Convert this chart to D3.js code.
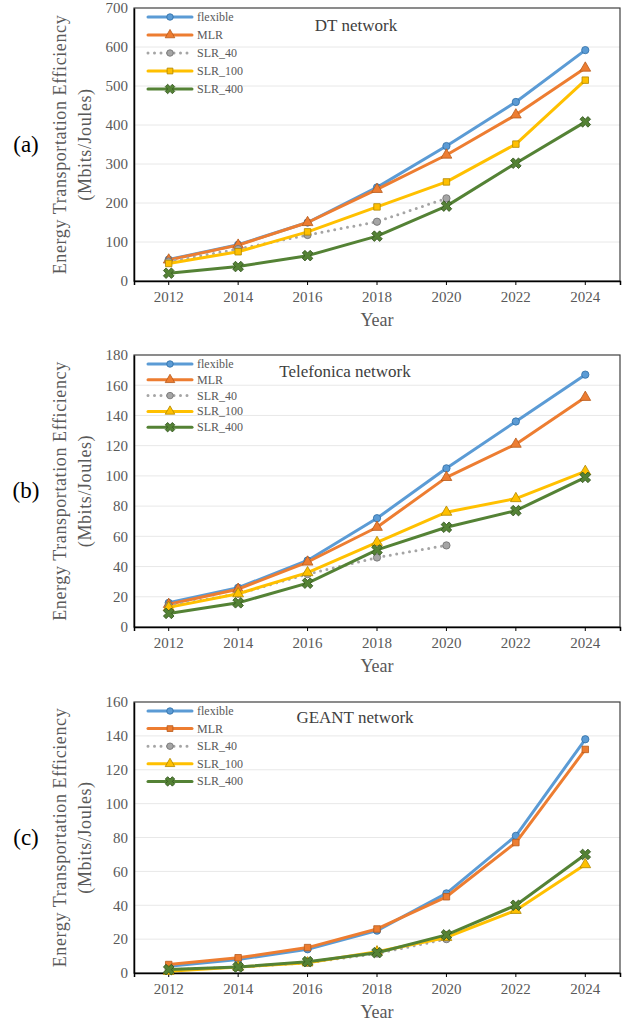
<!DOCTYPE html>
<html>
<head>
<meta charset="utf-8">
<script src="https://cdn.jsdelivr.net/npm/d3@7"></script>
<style>
  body { margin: 0; background: #fff; }
  svg { display: block; font-family: "Liberation Serif", "Times New Roman", serif; }
  svg text { font-family: "Liberation Serif", "Times New Roman", serif; }
</style>
</head>
<body>
<div id="chart"></div>
<script>
// ---- data ----
const years = ["2012", "2014", "2016", "2018", "2020", "2022", "2024"];
const seriesNames = ["flexible", "MLR", "SLR_40", "SLR_100", "SLR_400"];

// (a) DT network
const dtFlexible = [55, 93, 150, 240, 346, 459, 592];
const dtMLR = [54, 92, 150, 235, 323, 426, 546];
const dtSLR40 = [50, 82, 118, 152, 212, null, null];
const dtSLR100 = [45, 75, 126, 190, 254, 351, 515];
const dtSLR400 = [20, 37, 65, 115, 192, 302, 408];

// (b) Telefonica network
const tfFlexible = [16, 26, 44, 72, 105, 136, 167];
const tfMLR = [15, 25, 43, 66, 99, 121, 152];
const tfSLR40 = [14, 22, 35, 46, 54, null, null];
const tfSLR100 = [13, 22, 36, 56, 76, 85, 103];
const tfSLR400 = [9, 16, 29, 51, 66, 77, 99];

// (c) GEANT network
const geFlexible = [4, 8, 14, 25, 47, 81, 138];
const geMLR = [5, 9, 15, 26, 45, 77, 132];
const geSLR40 = [2, 3.5, 6, 11.5, 20, null, null];
const geSLR100 = [1, 3.5, 6, 12.5, 21, 37, 64];
const geSLR400 = [2, 3.5, 6.7, 12, 22.5, 40, 70];

const colors = ["#5B9BD5", "#ED7D31", "#A5A5A5", "#FFC000", "#548235"];
const strokes = ["#2E6DA4", "#B65A1C", "#6E6E6E", "#B08600", "#33551F"];

// ---- layout ----
const width = 625;
const height = 1022;
const plotLeft = 134;
const plotRight = 620;
const textColor = "#595959";
const serif = '"Liberation Serif", "Times New Roman", serif';

const panels = [
  { label: "(a)", title: "DT network", top: 8, bottom: 281, max: 700, step: 100,
    values: [dtFlexible, dtMLR, dtSLR40, dtSLR100, dtSLR400],
    shapes: ["circle", "triangle", "circle", "square", "x"],
    titleX: 356, titleY: 31, legendY: 17, legendStep: 18 },
  { label: "(b)", title: "Telefonica network", top: 355, bottom: 627, max: 180, step: 20,
    values: [tfFlexible, tfMLR, tfSLR40, tfSLR100, tfSLR400],
    shapes: ["circle", "triangle", "circle", "triangle", "x"],
    titleX: 345, titleY: 377, legendY: 364, legendStep: 15.8 },
  { label: "(c)", title: "GEANT network", top: 702, bottom: 973, max: 160, step: 20,
    values: [geFlexible, geMLR, geSLR40, geSLR100, geSLR400],
    shapes: ["circle", "square", "circle", "triangle", "x"],
    titleX: 355, titleY: 723, legendY: 711, legendStep: 17.6 },
];

const svg = d3.select("#chart").append("svg")
  .attr("width", width)
  .attr("height", height);

// marker drawn on each point and in the legend
function drawMarker(g, shape, x, y, i, scale = 1) {
  const sym = {
    circle: d3.symbolCircle,
    triangle: d3.symbolTriangle,
    square: d3.symbolSquare,
    x: d3.symbolCross,
  }[shape];
  const size = (shape === "x" ? 70 : shape === "triangle" ? 50 : 42) * scale;
  g.append("path")
    .attr("d", d3.symbol().type(sym).size(size)())
    .attr("transform", `translate(${x},${y})` + (shape === "x" ? " rotate(45)" : ""))
    .attr("fill", colors[i])
    .attr("stroke", strokes[i])
    .attr("stroke-width", 0.8);
}

function styleAxis(axisG) {
  axisG.attr("font-family", serif).attr("font-size", 15);
  axisG.select(".domain").attr("stroke", "#000").attr("stroke-width", 1.5);
  axisG.selectAll(".tick line").attr("stroke", "#000");
  axisG.selectAll("text")
    .style("font-family", serif).attr("font-size", 15).attr("fill", textColor);
}

function drawPanel(p) {
  const g = svg.append("g");

  const x = d3.scaleBand().domain(years).range([plotLeft, plotRight]);
  const y = d3.scaleLinear().domain([0, p.max]).range([p.bottom, p.top]);
  const ticks = d3.range(0, p.max + 1, p.step);

  // gridlines
  g.append("g")
    .selectAll("line")
    .data(ticks.filter((t) => t > 0 && t < p.max))
    .join("line")
    .attr("x1", plotLeft).attr("x2", plotRight)
    .attr("y1", (d) => y(d)).attr("y2", (d) => y(d))
    .attr("stroke", "#E8E8E8").attr("stroke-width", 1);

  // plot border
  g.append("rect")
    .attr("x", plotLeft).attr("y", p.top)
    .attr("width", plotRight - plotLeft).attr("height", p.bottom - p.top)
    .attr("fill", "none").attr("stroke", "#404040").attr("stroke-width", 1.2);

  // axes
  const yAxis = g.append("g")
    .attr("transform", `translate(${plotLeft},0)`)
    .call(d3.axisLeft(y).tickValues(ticks).tickSize(0).tickPadding(6));
  styleAxis(yAxis);

  const xAxis = g.append("g")
    .attr("transform", `translate(0,${p.bottom})`)
    .call(d3.axisBottom(x).tickSizeInner(4).tickSizeOuter(4).tickPadding(6));
  styleAxis(xAxis);

  // axis titles
  g.append("text")
    .attr("x", (plotLeft + plotRight) / 2).attr("y", p.bottom + 45)
    .attr("text-anchor", "middle")
    .attr("font-size", 18).attr("fill", textColor)
    .text("Year");

  const midY = (p.top + p.bottom) / 2;
  g.append("text")
    .attr("transform", `translate(66,${midY}) rotate(-90)`)
    .attr("text-anchor", "middle")
    .attr("font-size", 18).attr("letter-spacing", 0.6).attr("fill", textColor)
    .text("Energy Transportation Efficiency");
  g.append("text")
    .attr("transform", `translate(91,${midY}) rotate(-90)`)
    .attr("text-anchor", "middle")
    .attr("font-size", 18).attr("letter-spacing", 0.6).attr("fill", textColor)
    .text("(Mbits/Joules)");

  // panel label
  g.append("text")
    .attr("x", 26).attr("y", midY + 7)
    .attr("text-anchor", "middle")
    .attr("font-size", 23).attr("fill", "#000")
    .text(p.label);

  // chart title
  g.append("text")
    .attr("x", p.titleX).attr("y", p.titleY)
    .attr("text-anchor", "middle")
    .attr("font-size", 17).attr("fill", "#404040")
    .text(p.title);

  // series
  const cx = (d, i) => x(years[i]) + x.bandwidth() / 2;
  p.values.forEach((vals, si) => {
    const line = d3.line()
      .defined((d) => d !== null)
      .x((d, i) => cx(d, i))
      .y((d) => y(d));
    const path = g.append("path")
      .datum(vals)
      .attr("d", line)
      .attr("fill", "none")
      .attr("stroke", colors[si])
      .attr("stroke-width", 3)
      .attr("stroke-linejoin", "round")
      .attr("stroke-linecap", "round");
    if (si === 2) path.attr("stroke-dasharray", "0,6.5");

    const mg = g.append("g");
    vals.forEach((v, i) => {
      if (v !== null) drawMarker(mg, p.shapes[si], cx(v, i), y(v), si);
    });
  });

  // legend
  seriesNames.forEach((name, si) => {
    const ly = p.legendY + si * p.legendStep;
    const ll = g.append("line")
      .attr("x1", 148).attr("x2", 192)
      .attr("y1", ly).attr("y2", ly)
      .attr("stroke", colors[si]).attr("stroke-width", 3)
      .attr("stroke-linecap", "round");
    if (si === 2) ll.attr("stroke-dasharray", "0,6.5");
    drawMarker(g, p.shapes[si], 170, ly, si, 0.8);
    g.append("text")
      .attr("x", 197).attr("y", ly + 4)
      .attr("font-size", 12).attr("fill", textColor)
      .text(name);
  });
}

panels.forEach(drawPanel);
</script>
</body>
</html>
